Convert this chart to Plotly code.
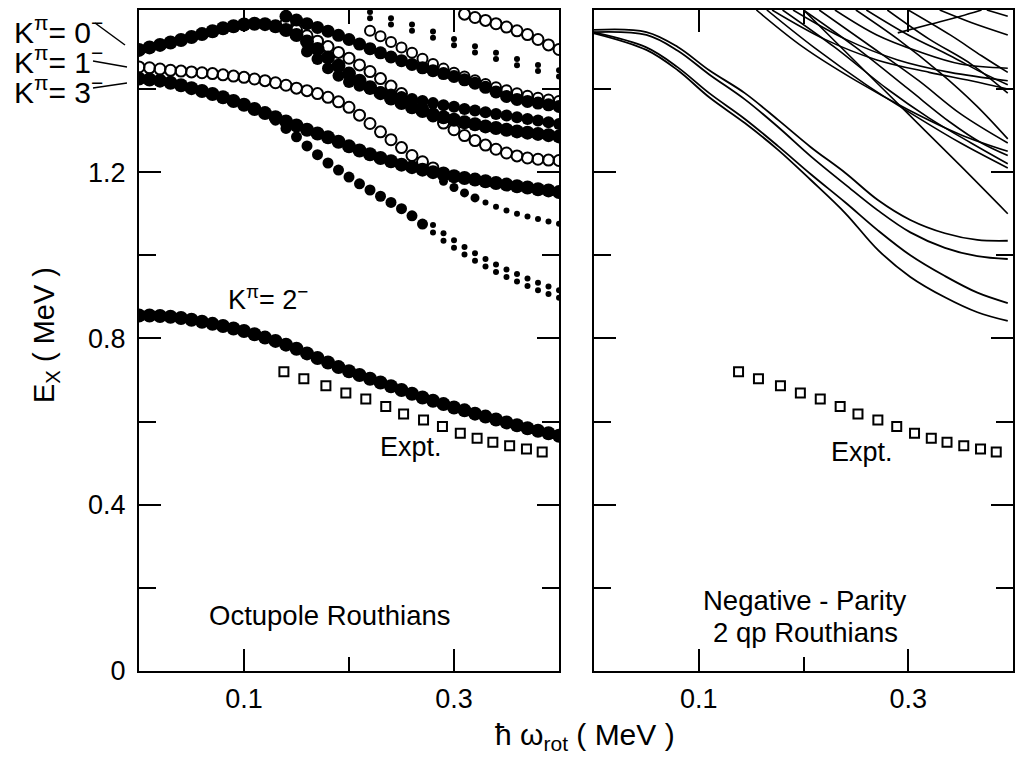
import plotly.graph_objects as go

# ---------------- data ----------------
OMEGA = [0.00, 0.01, 0.02, 0.03, 0.04, 0.05, 0.06, 0.07, 0.08, 0.09,
         0.10, 0.11, 0.12, 0.13, 0.14, 0.15, 0.16, 0.17, 0.18, 0.19,
         0.20, 0.21, 0.22, 0.23, 0.24, 0.25, 0.26, 0.27, 0.28, 0.29,
         0.30, 0.31, 0.32, 0.33, 0.34, 0.35, 0.36, 0.37, 0.38, 0.39, 0.40]

# octupole Routhians (left panel)
K2_E = [0.855, 0.855, 0.854, 0.852, 0.849, 0.845, 0.840, 0.835, 0.830, 0.824,
        0.818, 0.810, 0.802, 0.794, 0.785, 0.775, 0.764, 0.753, 0.742, 0.731,
        0.721, 0.712, 0.703, 0.694, 0.685, 0.676, 0.667, 0.658, 0.650, 0.642,
        0.634, 0.627, 0.619, 0.612, 0.605, 0.598, 0.591, 0.584, 0.578, 0.572, 0.566]
K3_E = [1.425, 1.423, 1.420, 1.415, 1.409, 1.402, 1.395, 1.388, 1.380, 1.371,
        1.362, 1.352, 1.342, 1.332, 1.322, 1.312, 1.302, 1.293, 1.284, 1.273,
        1.262, 1.252, 1.243, 1.234, 1.226, 1.218, 1.212, 1.206, 1.200, 1.195,
        1.190, 1.186, 1.182, 1.178, 1.174, 1.170, 1.166, 1.163, 1.159, 1.156, 1.152]
K0_E = [1.494, 1.500, 1.506, 1.512, 1.518, 1.525, 1.532, 1.539, 1.546, 1.551,
        1.555, 1.557, 1.556, 1.551, 1.542, 1.530, 1.514, 1.496, 1.476, 1.456,
        1.437, 1.420, 1.404, 1.390, 1.377, 1.366, 1.356, 1.347, 1.339, 1.332,
        1.326, 1.320, 1.315, 1.310, 1.306, 1.302, 1.298, 1.295, 1.292, 1.289, 1.286]
K1_OPEN_E = [1.453, 1.451, 1.448, 1.445, 1.443, 1.441, 1.439, 1.437, 1.434, 1.431,
             1.428, 1.424, 1.420, 1.415, 1.409, 1.402, 1.396, 1.389, 1.380, 1.369,
             1.356, 1.337, 1.317, 1.297, 1.278, 1.259, 1.240, 1.225, 1.210, 1.198]
K3_BRANCH_E = [1.325, 1.305, 1.285, 1.263, 1.242, 1.222, 1.205, 1.188, 1.172, 1.157,
               1.142, 1.127, 1.112, 1.095, 1.075, 1.055, 1.035, 1.018, 1.002, 0.987,
               0.973, 0.960, 0.948, 0.937, 0.926, 0.916, 0.907, 0.898]          # from 0.13
K3_TWIN_E = [1.073, 1.053, 1.036, 1.020, 1.005, 0.991, 0.978, 0.966, 0.955, 0.944,
             0.934, 0.925, 0.916]                                                # from 0.28
MID_E = [1.178, 1.163, 1.150, 1.138, 1.127, 1.117, 1.108, 1.100, 1.093, 1.087,
         1.081, 1.076]                                                           # from 0.29
UPPER_E = [1.575, 1.566, 1.557, 1.548, 1.539, 1.529, 1.519, 1.508, 1.497, 1.487,
           1.477, 1.468, 1.459, 1.451, 1.444, 1.437, 1.430, 1.422, 1.414, 1.404,
           1.393, 1.382, 1.375, 1.370, 1.366, 1.362, 1.358]                      # from 0.14
F2_E = [1.490, 1.472, 1.450, 1.432, 1.417, 1.408, 1.400, 1.393, 1.387, 1.381,
        1.376, 1.371, 1.366, 1.361, 1.357, 1.352, 1.348, 1.344, 1.340, 1.336,
        1.332, 1.328, 1.324, 1.320, 1.316]                                       # from 0.16
OPEN2_E = [1.558, 1.542, 1.528, 1.515, 1.502, 1.488, 1.474, 1.458, 1.442, 1.425,
           1.407, 1.389, 1.371, 1.353, 1.335, 1.318, 1.302, 1.288, 1.276, 1.265,
           1.255, 1.246, 1.239, 1.234, 1.231, 1.229, 1.228]                      # from 0.14
OPEN3_E = [1.580, 1.572, 1.565, 1.557, 1.549, 1.540, 1.531, 1.519, 1.506, 1.495]  # from 0.31
OPEN4_E = [1.540, 1.527, 1.513, 1.500, 1.487, 1.473, 1.460, 1.449, 1.439, 1.430,
           1.421, 1.412, 1.404, 1.397, 1.390, 1.384, 1.379, 1.375, 1.371]        # from 0.22
DOTS_W = [0.22, 0.24, 0.26, 0.28, 0.30, 0.32, 0.34, 0.36, 0.38, 0.40]
DOTS_A_E = [1.585, 1.570, 1.555, 1.538, 1.520, 1.503, 1.487, 1.472, 1.458, 1.445]
DOTS_B_E = [1.570, 1.555, 1.540, 1.523, 1.505, 1.488, 1.472, 1.457, 1.443, 1.430]

# experiment
EXPT_W = [0.138, 0.157, 0.178, 0.197, 0.216, 0.235, 0.252, 0.271, 0.289, 0.306,
          0.322, 0.337, 0.353, 0.369, 0.384]
EXPT_E = [0.720, 0.703, 0.686, 0.669, 0.654, 0.636, 0.618, 0.604, 0.588, 0.572,
          0.560, 0.550, 0.542, 0.534, 0.527]

# 2qp Routhians (right panel)
QP_GRID = [0.0, 0.05, 0.08, 0.11, 0.144, 0.176, 0.207, 0.24, 0.271, 0.302, 0.335, 0.366, 0.395]
QP_R1_E = [1.542, 1.537, 1.501, 1.445, 1.390, 1.325, 1.260, 1.198, 1.133, 1.085, 1.053, 1.037, 1.035]
QP_R2_E = [1.537, 1.530, 1.492, 1.435, 1.375, 1.308, 1.238, 1.170, 1.108, 1.055, 1.018, 0.998, 0.991]
QP_R3_E = [1.536, 1.500, 1.452, 1.390, 1.328, 1.262, 1.195, 1.127, 1.060, 1.000, 0.950, 0.910, 0.885]
QP_R4_E = [1.534, 1.494, 1.445, 1.380, 1.318, 1.253, 1.181, 1.101, 1.013, 0.948, 0.899, 0.863, 0.842]

QP_B1 = [(0.155, 1.59), (0.20, 1.50), (0.25, 1.42), (0.30, 1.35), (0.35, 1.29), (0.395, 1.25)]
QP_B2 = [(0.165, 1.59), (0.21, 1.50), (0.26, 1.41), (0.31, 1.33), (0.35, 1.27), (0.395, 1.21)]
QP_B3 = [(0.18, 1.59), (0.23, 1.50), (0.28, 1.40), (0.32, 1.33), (0.36, 1.27), (0.395, 1.22)]
QP_B4 = [(0.20, 1.59), (0.25, 1.50), (0.30, 1.40), (0.34, 1.32), (0.37, 1.27), (0.395, 1.24)]
QP_B5 = [(0.215, 1.59), (0.26, 1.51), (0.31, 1.42), (0.35, 1.34), (0.395, 1.27)]
QP_B6 = [(0.25, 1.59), (0.29, 1.52), (0.33, 1.44), (0.365, 1.36), (0.395, 1.28)]
QP_S = [(0.20, 1.59), (0.25, 1.465), (0.30, 1.34), (0.35, 1.215), (0.395, 1.10)]
QP_A1 = [(0.17, 1.59), (0.22, 1.52), (0.27, 1.47), (0.32, 1.44), (0.36, 1.42), (0.395, 1.40)]
QP_A2 = [(0.19, 1.59), (0.24, 1.52), (0.29, 1.47), (0.34, 1.44), (0.395, 1.42)]
QP_A3 = [(0.23, 1.59), (0.27, 1.53), (0.31, 1.49), (0.35, 1.46), (0.395, 1.45)]
QP_A4 = [(0.26, 1.59), (0.30, 1.53), (0.34, 1.48), (0.37, 1.44), (0.395, 1.41)]
QP_A5 = [(0.28, 1.59), (0.32, 1.52), (0.36, 1.46), (0.395, 1.39)]
QP_A6 = [(0.30, 1.59), (0.34, 1.53), (0.37, 1.48), (0.395, 1.44)]
QP_T1 = [(0.33, 1.59), (0.36, 1.56), (0.395, 1.53)]
QP_T2 = [(0.375, 1.59), (0.395, 1.575)]
QP_T3 = [(0.29, 1.535), (0.32, 1.555), (0.35, 1.575), (0.37, 1.59)]

# ---------------- figure ----------------
W, H = 1020, 763
L, R, T, B = 139, 1013, 10, 671
PW, PH = R - L, B - T
def px(x): return (x - L) / PW
def py(y): return (B - y) / PH

FONT = "Arial, Liberation Sans, Helvetica, sans-serif"
fig = go.Figure()

def chain(w, e, size, filled=True, xa="x", ya="y"):
    fig.add_trace(go.Scatter(
        x=w, y=e, mode="markers", xaxis=xa, yaxis=ya, showlegend=False,
        marker=dict(symbol="circle" if filled else "circle-open", size=size, color="black", opacity=1,
                    line=dict(color="black", width=2 if not filled else 0))))

def idx(w0):
    return [round(o, 2) for o in OMEGA].index(w0)

# filled chains
chain(OMEGA, K2_E, 14)
chain(OMEGA, K0_E, 14)
chain(OMEGA, K3_E, 14)
bw = OMEGA[idx(0.13):]
chain(bw, K3_BRANCH_E, [11 if w < 0.275 else 6 for w in bw])
chain(OMEGA[idx(0.28):], K3_TWIN_E, 6)
mw = OMEGA[idx(0.29):]
chain(mw, MID_E, [9 if w < 0.325 else 6 for w in mw])
chain(OMEGA[idx(0.14):], UPPER_E, 13)
chain(OMEGA[idx(0.16):], F2_E, 12)
chain(DOTS_W, DOTS_A_E, 6)
chain(DOTS_W, DOTS_B_E, 6)
# open chains
chain(OMEGA[:len(K1_OPEN_E)], K1_OPEN_E, 11, filled=False)
chain(OMEGA[idx(0.14):], OPEN2_E, 11, filled=False)
chain(OMEGA[idx(0.31):], OPEN3_E, 11, filled=False)
chain(OMEGA[idx(0.22):], OPEN4_E, 10, filled=False)

# experiment squares (both panels)
for xa, ya in (("x", "y"), ("x2", "y2")):
    fig.add_trace(go.Scatter(
        x=EXPT_W, y=EXPT_E, mode="markers", xaxis=xa, yaxis=ya, showlegend=False,
        marker=dict(symbol="square-open", size=9, color="black", line=dict(width=2, color="black"))))

# 2qp Routhians
for e in (QP_R1_E, QP_R2_E, QP_R3_E, QP_R4_E):
    fig.add_trace(go.Scatter(x=QP_GRID, y=e, mode="lines", xaxis="x2", yaxis="y2",
                             showlegend=False, line=dict(color="black", width=1.8, shape="spline")))
for ln in (QP_B1, QP_B2, QP_B3, QP_B4, QP_B5, QP_B6, QP_S, QP_A1, QP_A2, QP_A3,
           QP_A4, QP_A5, QP_A6, QP_T1, QP_T2, QP_T3):
    fig.add_trace(go.Scatter(x=[p[0] for p in ln], y=[p[1] for p in ln], mode="lines",
                             xaxis="x2", yaxis="y2", showlegend=False,
                             line=dict(color="black", width=1.6, shape="spline")))

d1 = [0, px(559)]
d2 = [px(594), 1]
axcommon = dict(showline=True, linecolor="black", linewidth=2, mirror="allticks",
                ticks="inside", tickwidth=2, tickcolor="black", showgrid=False, zeroline=False,
                tickfont=dict(family=FONT, size=27, color="black"))
xcommon = dict(axcommon, range=[0, 0.4], tickvals=[0.1, 0.3], ticktext=["0.1", "0.3"], ticklen=22,
               ticklabelstandoff=3,
               minor=dict(tickvals=[0.2], ticklen=14, ticks="inside", tickwidth=2, tickcolor="black", showgrid=False))
ycommon = dict(axcommon, range=[0, 1.59], tickvals=[0, 0.4, 0.8, 1.2], ticktext=["0", "0.4", "0.8", "1.2"],
               ticklen=22, ticklabelstandoff=6,
               minor=dict(tickvals=[0.2, 0.6, 1.0, 1.4], ticklen=17, ticks="inside", tickwidth=2,
                          tickcolor="black", showgrid=False))

fig.update_layout(
    width=W, height=H, margin=dict(l=L, r=W - R, t=T, b=H - B, autoexpand=False),
    plot_bgcolor="white", paper_bgcolor="white",
    xaxis=dict(xcommon, domain=d1, anchor="y", automargin=False),
    yaxis=dict(ycommon, domain=[0, 1], anchor="x", automargin=False),
    xaxis2=dict(xcommon, domain=d2, anchor="y2", automargin=False),
    yaxis2=dict(ycommon, domain=[0, 1], anchor="x2", showticklabels=False, automargin=False),
)

def note(text, x, y, size=27, xanchor="center", yanchor="middle", **kw):
    fig.add_annotation(text=text, x=px(x), y=py(y), xref="paper", yref="paper", showarrow=False,
                       xanchor=xanchor, yanchor=yanchor,
                       font=dict(family=FONT, size=size, color="black"), **kw)

note("K<sup>π</sup>= 0<sup>−</sup>", 12, 30, size=30, xanchor="left")
note("K<sup>π</sup>= 1<sup>−</sup>", 12, 60, size=30, xanchor="left")
note("K<sup>π</sup>= 3<sup>−</sup>", 12, 90, size=30, xanchor="left")
note("K<sup>π</sup>= 2<sup>−</sup>", 268, 298, size=27)
note("Expt.", 411, 447, size=27)
note("Expt.", 862, 452, size=27)
note("Octupole Routhians", 330, 615, size=27.5)
note("Negative - Parity", 805, 600, size=27.5)
note("2 qp Routhians", 805, 632, size=27.5)
note("ħ ω<sub>rot</sub> ( MeV )", 585, 736, size=30)
note("E<sub>X</sub> ( MeV )", 46, 335, size=29, textangle=-90)

for (x0, y0, x1, y1) in ((95, 23, 125, 45), (93, 61, 127, 67), (93, 88, 127, 83)):
    fig.add_shape(type="line", xref="paper", yref="paper", x0=px(x0), y0=py(y0), x1=px(x1), y1=py(y1),
                  line=dict(color="black", width=1.5))

fig.write_html("out.html", config={"displayModeBar": False},
               post_script="document.body.style.margin='0px';document.body.style.padding='0px';")
